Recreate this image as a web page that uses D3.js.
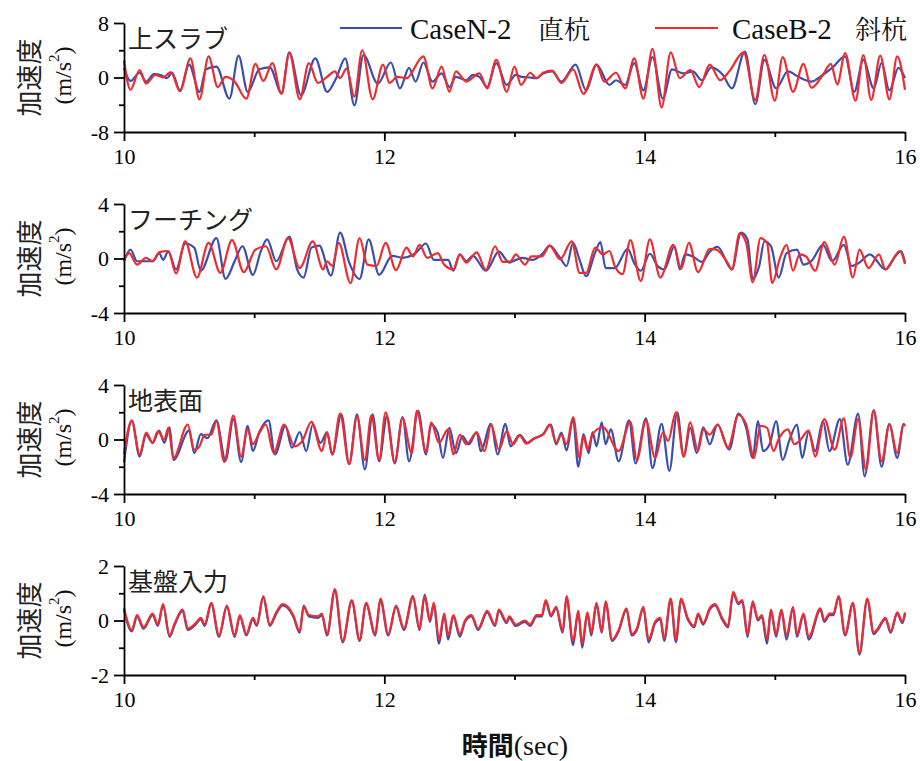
<!DOCTYPE html>
<html><head><meta charset="utf-8">
<script src="https://cdn.jsdelivr.net/npm/d3@7"></script>
<style>body{margin:0;background:#fff}svg{display:block}</style>
</head><body>
<script>
// ---------- data ----------
const timeDomain = [10, 16];
const xTicksMajor = [10, 12, 14, 16];
const xTicksMinor = [11, 13, 15];
const panelTitles = ["上スラブ", "フーチング", "地表面", "基盤入力"];
const panelLimits = [8, 4, 4, 2];
const legendCases = ["CaseN-2", "CaseB-2"];
const legendPiles = ["直杭", "斜杭"];
const yLabel = "加速度";
const xLabelMain = "時間";
const xLabelUnit = "(sec)";

// 上スラブ
const slabN = [[10.00,1.4],[10.05,-0.5],[10.12,0.7],[10.17,-0.6],[10.23,0.5],[10.29,0.3],[10.33,-0.1],[10.37,0.7],[10.43,-1.9],[10.50,1.9],[10.58,-2.1],[10.63,1.2],[10.71,1.6],[10.81,-3.1],[10.88,3.2],[10.95,-2.1],[11.04,1.2],[11.12,1.5],[11.21,-2.3],[11.27,3.7],[11.36,-2.6],[11.47,2.8],[11.56,-2.1],[11.63,-0.1],[11.70,2.8],[11.77,-4.1],[11.84,3.3],[11.95,-0.9],[12.05,2.2],[12.12,-1.6],[12.19,1.4],[12.24,-0.6],[12.30,2.2],[12.37,-0.6],[12.44,0.6],[12.50,-1.4],[12.55,0.1],[12.63,-0.4],[12.68,0.4],[12.73,0.1],[12.79,-1.4],[12.86,2.1],[12.94,-1.1],[13.01,0.4],[13.05,0.1],[13.12,0.0],[13.17,-0.1],[13.22,0.6],[13.29,0.9],[13.36,-0.6],[13.47,1.9],[13.55,-1.9],[13.63,1.9],[13.73,-1.1],[13.78,-0.4],[13.85,-1.1],[13.92,2.1],[13.99,-1.9],[14.06,3.0],[14.14,-3.1],[14.21,1.2],[14.30,0.6],[14.37,0.9],[14.44,-0.4],[14.51,1.5],[14.60,0.4],[14.67,-1.6],[14.77,3.8],[14.85,-3.9],[14.92,2.6],[15.01,-1.6],[15.10,0.9],[15.18,0.1],[15.28,-0.6],[15.37,0.4],[15.44,1.4],[15.54,3.1],[15.61,-2.1],[15.68,2.6],[15.76,-1.6],[15.82,2.1],[15.88,-1.9],[15.95,1.4],[16.00,-0.1]];
const slabB = [[10.00,2.5],[10.05,-1.8],[10.12,1.1],[10.17,-0.9],[10.24,0.4],[10.30,0.0],[10.36,0.8],[10.43,-2.0],[10.51,2.8],[10.58,-3.2],[10.65,3.1],[10.72,-1.4],[10.78,0.1],[10.85,-0.6],[10.94,-3.1],[11.01,2.0],[11.07,-0.5],[11.14,2.1],[11.21,-2.4],[11.27,3.6],[11.35,-3.2],[11.42,2.1],[11.49,-0.8],[11.56,0.1],[11.62,0.9],[11.66,-0.1],[11.71,1.3],[11.77,-2.8],[11.83,4.0],[11.91,-3.2],[11.99,1.9],[12.04,-0.8],[12.10,0.1],[12.17,-0.1],[12.30,3.1],[12.37,-1.6],[12.44,1.6],[12.50,-2.1],[12.55,0.9],[12.63,-0.6],[12.73,0.6],[12.79,-1.6],[12.86,2.6],[12.94,-2.1],[13.00,1.6],[13.05,-1.1],[13.12,0.7],[13.17,-0.1],[13.22,0.7],[13.29,1.0],[13.36,-0.8],[13.45,1.2],[13.53,-2.4],[13.63,1.9],[13.69,-0.6],[13.78,0.7],[13.85,-1.6],[13.92,2.8],[13.99,-3.1],[14.06,4.2],[14.13,-4.4],[14.20,3.7],[14.27,-0.1],[14.35,1.1],[14.42,-1.4],[14.50,1.9],[14.58,-0.4],[14.65,0.9],[14.76,3.7],[14.85,-3.3],[14.92,3.3],[15.00,-3.4],[15.06,3.0],[15.14,-2.1],[15.22,2.0],[15.28,-1.5],[15.37,0.4],[15.43,2.0],[15.48,-1.0],[15.54,3.6],[15.62,-3.4],[15.68,3.3],[15.74,-3.3],[15.81,3.2],[15.88,-3.2],[15.94,3.1],[16.00,-1.8]];

// フーチング
const footN = [[10.00,-0.2],[10.05,0.65],[10.10,-0.2],[10.17,-0.2],[10.22,-0.2],[10.27,0.4],[10.30,-0.1],[10.34,0.5],[10.40,-0.8],[10.47,1.1],[10.54,0.8],[10.59,-0.9],[10.71,1.5],[10.78,-1.5],[10.85,-0.2],[10.91,0.9],[10.99,-1.2],[11.05,0.5],[11.10,1.4],[11.17,-0.2],[11.27,1.6],[11.33,-0.8],[11.38,-1.4],[11.44,0.8],[11.50,0.95],[11.59,-1.25],[11.66,1.9],[11.73,-0.3],[11.81,-1.5],[11.88,1.4],[11.96,-1.2],[12.06,0.2],[12.14,0.05],[12.24,0.4],[12.32,1.1],[12.38,-0.1],[12.49,-0.1],[12.53,-0.9],[12.58,0.3],[12.63,-0.2],[12.68,0.2],[12.78,-0.9],[12.88,0.5],[12.96,-0.3],[13.01,-0.1],[13.06,0.05],[13.14,-0.1],[13.22,0.4],[13.27,0.95],[13.35,0.05],[13.40,-0.55],[13.45,1.15],[13.50,-0.1],[13.55,-1.3],[13.62,0.45],[13.66,1.2],[13.70,-0.7],[13.77,-0.7],[13.87,0.7],[13.92,-0.35],[13.97,-0.9],[14.04,0.35],[14.10,-0.55],[14.15,-0.8],[14.23,0.9],[14.27,-0.8],[14.31,0.3],[14.37,0.15],[14.44,-0.25],[14.50,0.5],[14.56,0.85],[14.67,-0.8],[14.74,1.9],[14.79,1.4],[14.83,-1.5],[14.88,-0.55],[14.92,1.25],[14.97,0.9],[15.03,-1.4],[15.09,0.4],[15.17,0.65],[15.22,-0.45],[15.28,-0.2],[15.37,1.0],[15.44,-0.2],[15.53,1.0],[15.59,-0.55],[15.65,-0.3],[15.73,0.3],[15.85,-0.8],[15.91,-0.05],[15.97,0.55],[16.00,-0.3]];
const footB = [[10.00,-0.1],[10.04,0.4],[10.10,-0.45],[10.17,0.05],[10.22,-0.2],[10.27,0.45],[10.34,0.55],[10.40,-1.1],[10.47,1.25],[10.56,-1.4],[10.65,1.15],[10.74,-1.05],[10.83,1.35],[10.92,-1.0],[11.01,0.65],[11.09,0.9],[11.17,-0.8],[11.26,1.5],[11.35,-0.7],[11.45,1.25],[11.53,-0.8],[11.56,-0.2],[11.60,-0.55],[11.65,1.15],[11.74,-1.8],[11.81,1.5],[11.87,-0.45],[11.94,-0.55],[12.01,1.15],[12.09,-0.85],[12.17,0.8],[12.22,0.15],[12.27,1.0],[12.33,0.05],[12.41,0.4],[12.46,-0.45],[12.53,-0.8],[12.58,0.3],[12.63,-0.3],[12.71,0.45],[12.78,-0.85],[12.85,0.9],[12.91,-0.25],[12.97,-0.2],[13.01,0.3],[13.08,-0.45],[13.13,0.15],[13.21,0.15],[13.27,0.95],[13.35,-0.05],[13.44,1.25],[13.50,-1.05],[13.55,-1.05],[13.62,0.8],[13.68,0.3],[13.73,0.55],[13.77,-0.55],[13.83,-1.15],[13.89,1.35],[13.97,-1.65],[14.04,1.4],[14.12,-1.4],[14.22,1.0],[14.28,-0.75],[14.34,1.15],[14.41,-1.0],[14.50,0.7],[14.55,0.65],[14.63,-0.2],[14.67,-0.8],[14.73,1.85],[14.78,1.15],[14.83,-1.75],[14.89,1.5],[14.94,1.15],[14.98,-1.8],[15.04,0.05],[15.09,1.0],[15.14,-0.9],[15.19,0.3],[15.24,0.15],[15.31,-0.9],[15.38,1.2],[15.46,-0.45],[15.53,1.6],[15.60,-1.4],[15.65,0.65],[15.72,-0.7],[15.80,0.3],[15.85,-0.8],[15.96,0.55],[16.00,-0.4]];

// 地表面
const groundN = [[10.00,-1.7],[10.06,1.35],[10.12,-1.25],[10.17,0.35],[10.22,-0.25],[10.27,0.65],[10.31,-0.25],[10.35,0.9],[10.38,-1.5],[10.50,0.65],[10.54,-1.0],[10.59,0.4],[10.64,0.1],[10.71,1.4],[10.78,-1.55],[10.84,1.5],[10.90,-1.65],[10.95,1.0],[10.99,-0.85],[11.04,0.55],[11.11,1.4],[11.16,-1.1],[11.24,1.0],[11.29,-0.6],[11.35,0.55],[11.40,-0.85],[11.45,1.1],[11.51,-0.25],[11.56,0.55],[11.60,-1.1],[11.67,1.85],[11.73,-1.8],[11.79,1.85],[11.85,-2.2],[11.91,1.85],[11.96,-1.6],[12.02,1.7],[12.08,-1.75],[12.14,1.65],[12.19,-1.6],[12.26,2.1],[12.32,-1.1],[12.36,1.1],[12.41,0.5],[12.45,-1.35],[12.50,0.85],[12.55,-1.0],[12.60,0.25],[12.65,-0.35],[12.71,0.55],[12.74,-0.85],[12.82,1.15],[12.87,-1.1],[12.93,1.15],[12.97,-0.5],[13.04,0.35],[13.10,-0.25],[13.15,0.05],[13.22,0.4],[13.28,1.1],[13.32,-0.35],[13.36,0.5],[13.40,-0.8],[13.45,1.5],[13.49,-2.0],[13.53,0.4],[13.57,-1.0],[13.60,0.55],[13.63,-0.5],[13.67,1.25],[13.70,-0.35],[13.74,0.75],[13.80,-1.6],[13.88,1.4],[13.93,-1.75],[14.01,1.55],[14.06,-2.1],[14.13,1.15],[14.19,-2.3],[14.25,2.0],[14.30,-1.25],[14.35,0.85],[14.40,-1.0],[14.45,0.9],[14.50,-0.35],[14.56,1.1],[14.65,-0.75],[14.72,1.9],[14.78,0.85],[14.83,-1.35],[14.87,1.35],[14.91,-0.85],[14.96,-0.35],[15.01,1.35],[15.06,-1.5],[15.11,-0.1],[15.17,1.1],[15.21,-1.35],[15.26,0.55],[15.31,-0.85],[15.37,1.35],[15.42,-0.85],[15.50,1.5],[15.56,-1.85],[15.64,1.9],[15.69,-2.7],[15.76,2.15],[15.82,-2.0],[15.88,1.15],[15.94,-1.35],[15.99,1.15],[16.00,1.0]];
const groundB = [[10.00,-1.1],[10.06,1.4],[10.12,-1.1],[10.17,0.5],[10.22,-0.25],[10.26,0.6],[10.31,0.0],[10.34,0.85],[10.38,-1.35],[10.49,1.1],[10.54,-0.75],[10.58,-0.5],[10.62,0.35],[10.67,0.35],[10.71,1.35],[10.77,-1.65],[10.84,1.75],[10.90,-1.25],[10.95,0.75],[10.99,-0.35],[11.04,0.5],[11.09,1.1],[11.15,-1.0],[11.23,1.1],[11.31,-0.5],[11.37,-0.1],[11.44,1.3],[11.52,-0.85],[11.56,0.5],[11.60,-1.1],[11.66,1.9],[11.73,-1.8],[11.79,1.65],[11.85,-1.5],[11.90,1.75],[11.96,-1.5],[12.01,2.0],[12.08,-1.65],[12.14,1.55],[12.21,-1.0],[12.25,2.1],[12.32,-0.9],[12.36,1.25],[12.42,-0.25],[12.49,0.75],[12.53,-1.1],[12.58,0.35],[12.63,-0.35],[12.71,0.5],[12.77,-0.85],[12.82,1.1],[12.88,-0.75],[12.94,0.6],[12.99,-0.35],[13.04,0.3],[13.09,-0.3],[13.15,0.1],[13.22,0.35],[13.27,1.1],[13.32,-0.25],[13.36,0.35],[13.40,-0.35],[13.45,1.65],[13.50,-1.35],[13.53,0.25],[13.56,-0.75],[13.60,0.4],[13.68,0.9],[13.80,-0.85],[13.89,1.3],[13.94,-1.5],[14.01,1.4],[14.08,-1.35],[14.14,0.5],[14.18,-0.1],[14.24,2.0],[14.30,-1.25],[14.35,1.25],[14.41,-0.85],[14.45,0.75],[14.50,0.35],[14.56,1.1],[14.64,-0.6],[14.72,1.8],[14.78,1.1],[14.84,-1.35],[14.89,1.0],[14.94,0.85],[14.99,-0.85],[15.03,0.05],[15.10,0.75],[15.15,-0.35],[15.19,-0.1],[15.26,0.65],[15.31,-1.25],[15.38,1.5],[15.46,-0.75],[15.53,1.55],[15.58,-1.35],[15.64,1.5],[15.70,-2.2],[15.76,2.1],[15.82,-1.6],[15.88,1.1],[15.94,-1.0],[15.99,1.1],[16.00,1.0]];

// 基盤入力
const baseN = [[10.00,0.4],[10.06,-0.4],[10.10,0.15],[10.15,-0.3],[10.22,0.2],[10.26,-0.2],[10.30,0.55],[10.35,-0.6],[10.39,-0.15],[10.45,0.35],[10.49,-0.35],[10.55,-0.15],[10.59,0.05],[10.62,-0.2],[10.67,0.6],[10.73,-0.6],[10.79,0.5],[10.85,-0.6],[10.89,0.15],[10.94,-0.55],[10.99,0.05],[11.02,-0.2],[11.07,0.85],[11.12,-0.2],[11.17,0.25],[11.22,0.55],[11.30,0.15],[11.35,-0.45],[11.38,0.55],[11.42,0.15],[11.49,0.1],[11.52,0.2],[11.56,-0.55],[11.62,1.1],[11.68,-0.8],[11.75,0.7],[11.81,-0.75],[11.86,0.6],[11.93,-0.55],[11.97,0.75],[12.03,-0.55],[12.09,0.5],[12.15,-0.35],[12.22,0.85],[12.27,-0.35],[12.31,0.95],[12.35,-0.05],[12.38,0.6],[12.42,-0.85],[12.46,0.2],[12.49,-0.7],[12.53,0.15],[12.58,-0.6],[12.62,-0.05],[12.67,0.15],[12.72,-0.35],[12.79,0.3],[12.85,-0.2],[12.88,0.35],[12.94,-0.1],[12.96,0.1],[13.01,-0.2],[13.08,-0.05],[13.12,-0.2],[13.17,0.15],[13.21,0.15],[13.24,0.7],[13.28,0.15],[13.32,0.45],[13.37,-0.45],[13.40,0.85],[13.45,-0.9],[13.49,0.3],[13.52,-1.0],[13.56,0.25],[13.59,-0.55],[13.63,0.6],[13.67,-0.45],[13.70,0.65],[13.75,-0.75],[13.80,-0.4],[13.86,0.4],[13.90,-0.55],[13.94,-0.35],[13.99,0.45],[14.03,-0.8],[14.08,-0.1],[14.12,0.05],[14.15,-0.75],[14.20,0.75],[14.24,-0.8],[14.28,0.75],[14.33,0.05],[14.38,-0.25],[14.41,0.2],[14.45,-0.15],[14.50,0.4],[14.54,0.55],[14.60,0.0],[14.64,-0.25],[14.68,1.0],[14.72,0.6],[14.75,0.7],[14.79,-0.6],[14.83,0.65],[14.87,0.0],[14.90,0.15],[14.94,-0.85],[14.97,0.35],[15.01,-0.6],[15.05,0.35],[15.09,-0.7],[15.14,0.45],[15.17,-0.6],[15.22,0.2],[15.26,-0.7],[15.35,0.4],[15.38,-0.05],[15.42,0.2],[15.45,0.2],[15.49,0.85],[15.54,-0.55],[15.60,0.6],[15.65,-1.25],[15.71,0.75],[15.76,-0.5],[15.79,-0.35],[15.85,0.05],[15.89,-0.45],[15.94,0.25],[15.98,-0.1],[16.00,0.25]];
const baseB = [[10.00,0.45],[10.06,-0.35],[10.10,0.2],[10.15,-0.25],[10.22,0.25],[10.26,-0.15],[10.30,0.6],[10.35,-0.55],[10.39,-0.1],[10.45,0.4],[10.49,-0.3],[10.55,-0.1],[10.59,0.1],[10.62,-0.15],[10.67,0.65],[10.73,-0.55],[10.79,0.55],[10.85,-0.55],[10.89,0.2],[10.94,-0.5],[10.99,0.1],[11.02,-0.15],[11.07,0.9],[11.12,-0.15],[11.17,0.3],[11.22,0.6],[11.30,0.2],[11.35,-0.4],[11.38,0.5],[11.42,0.2],[11.49,0.15],[11.52,0.25],[11.56,-0.5],[11.62,1.15],[11.68,-0.75],[11.75,0.75],[11.81,-0.7],[11.86,0.65],[11.93,-0.5],[11.97,0.8],[12.03,-0.5],[12.09,0.55],[12.15,-0.3],[12.22,0.9],[12.27,-0.3],[12.31,0.9],[12.35,0.0],[12.38,0.65],[12.42,-0.7],[12.46,0.25],[12.49,-0.55],[12.53,0.2],[12.58,-0.5],[12.62,0.0],[12.67,0.2],[12.72,-0.3],[12.79,0.35],[12.85,-0.15],[12.88,0.4],[12.94,-0.05],[12.96,0.15],[13.01,-0.15],[13.08,0.0],[13.12,-0.15],[13.17,0.2],[13.21,0.2],[13.24,0.75],[13.28,0.2],[13.32,0.5],[13.37,-0.4],[13.40,0.9],[13.45,-0.75],[13.49,0.35],[13.52,-0.85],[13.56,0.3],[13.59,-0.45],[13.63,0.65],[13.67,-0.4],[13.70,0.7],[13.75,-0.7],[13.80,-0.35],[13.86,0.45],[13.90,-0.5],[13.94,-0.3],[13.99,0.5],[14.03,-0.7],[14.08,-0.05],[14.12,0.1],[14.15,-0.65],[14.20,0.8],[14.24,-0.7],[14.28,0.8],[14.33,0.1],[14.38,-0.2],[14.41,0.25],[14.45,-0.1],[14.50,0.45],[14.54,0.6],[14.60,0.05],[14.64,-0.2],[14.68,1.05],[14.72,0.65],[14.75,0.75],[14.79,-0.5],[14.83,0.7],[14.87,0.05],[14.90,0.2],[14.94,-0.7],[14.97,0.4],[15.01,-0.5],[15.05,0.4],[15.09,-0.55],[15.14,0.5],[15.17,-0.5],[15.22,0.25],[15.26,-0.6],[15.35,0.45],[15.38,0.0],[15.42,0.25],[15.45,0.25],[15.49,0.9],[15.54,-0.5],[15.60,0.65],[15.65,-1.2],[15.71,0.8],[15.76,-0.45],[15.79,-0.3],[15.85,0.1],[15.89,-0.4],[15.94,0.3],[15.98,-0.05],[16.00,0.3]];

const panelSeriesN = [slabN, footN, groundN, baseN];
const panelSeriesB = [slabB, footB, groundB, baseB];

// ---------- layout ----------
const W = 920, H = 761;
const xL = 124, xR = 905;
const panelTops = [23, 204, 385, 566];
const panelH = 109;
const colN = "#3a4fae", colB = "#ef2b2f";
const serif = "'Liberation Serif'";
const cjk = "'Noto Sans CJK JP'";
const cjkSerif = "'Noto Serif CJK JP'";

const svg = d3.select("body").append("svg").attr("width", W).attr("height", H);
const x = d3.scaleLinear().domain(timeDomain).range([xL, xR]);

function clean(arr){
  const out=[]; let last=-Infinity;
  for(const p of arr){ if(p[0]>last){out.push(p); last=p[0];} }
  return out;
}

panelLimits.forEach((lim, i) => {
  const top = panelTops[i];
  const y = d3.scaleLinear().domain([-lim, lim]).range([top + panelH, top]);
  const g = svg.append("g");
  const line = d3.line().x(d => x(d[0])).y(d => y(d[1])).curve(d3.curveMonotoneX);

  g.append("path").datum(clean(panelSeriesN[i])).attr("d", line)
    .attr("fill","none").attr("stroke",colN).attr("stroke-width",2.2).attr("stroke-linejoin","round");
  g.append("path").datum(clean(panelSeriesB[i])).attr("d", line)
    .attr("fill","none").attr("stroke",colB).attr("stroke-width",2.2).attr("stroke-linejoin","round");

  const ya = g.append("g").attr("transform",`translate(${xL},0)`)
    .call(d3.axisLeft(y).tickValues([-lim,0,lim]).tickSize(10).tickSizeOuter(0).tickPadding(5).tickFormat(d=>String(d)));
  const ym = g.append("g").attr("transform",`translate(${xL},0)`)
    .call(d3.axisLeft(y).tickValues([-lim/2,lim/2]).tickSize(5).tickSizeOuter(0).tickFormat(""));
  ym.select(".domain").remove();
  const xa = g.append("g").attr("transform",`translate(0,${top+panelH})`)
    .call(d3.axisBottom(x).tickValues(xTicksMajor).tickSize(9).tickSizeOuter(0).tickPadding(7).tickFormat(d=>String(d)));
  const xm = g.append("g").attr("transform",`translate(0,${top+panelH})`)
    .call(d3.axisBottom(x).tickValues(xTicksMinor).tickSize(5).tickSizeOuter(0).tickFormat(""));
  xm.select(".domain").remove();
  [ya,ym,xa,xm].forEach(a=>{
    a.attr("font-family", null).attr("font-size", null);
    a.selectAll("path,line").attr("stroke","#000").attr("stroke-width",1.8);
    a.selectAll("text").style("font-family",serif).style("font-size","22px").attr("fill","#000");
  });

  g.append("text").attr("x", xL+4).attr("y", top+25).text(panelTitles[i])
    .style("font-family", cjk).style("font-size","25px").attr("fill","#222");

  const cy = top + panelH/2;
  g.append("text").attr("transform",`translate(27,${cy}) rotate(-90)`)
    .attr("text-anchor","middle").attr("dominant-baseline","central")
    .style("font-family",cjk).style("font-size","26px").attr("fill","#222").text(yLabel);
  const u = g.append("text").attr("transform",`translate(63,${cy-2}) rotate(-90)`)
    .attr("text-anchor","middle").attr("dominant-baseline","central")
    .style("font-family",serif).style("font-size","24px").attr("fill","#111");
  u.append("tspan").text("(m/s");
  u.append("tspan").attr("dy",-9).style("font-size","15px").text("2");
  u.append("tspan").attr("dy",9).text(")");
});

// legend
const legend = svg.append("g");
[[colN, 340, 402, 410, 538, 0],[colB, 655, 718, 732, 855, 1]].forEach(([c,x1,x2,tx,tx2,k])=>{
  legend.append("line").attr("x1",x1).attr("x2",x2).attr("y1",28).attr("y2",28).attr("stroke",c).attr("stroke-width",2);
  legend.append("text").attr("x",tx).attr("y",39).style("font-family",serif).style("font-size","29px")
    .attr("fill","#111").text(legendCases[k]);
  legend.append("text").attr("x",tx2).attr("y",39).style("font-family",cjkSerif).style("font-size","26px")
    .attr("fill","#111").text(legendPiles[k]);
});

// x title
const xt = svg.append("text").attr("x",515).attr("y",755).attr("text-anchor","middle").attr("fill","#111");
xt.append("tspan").style("font-family",cjk).style("font-weight","bold").style("font-size","26px").text(xLabelMain);
xt.append("tspan").style("font-family",serif).style("font-size","28px").text(xLabelUnit);
</script>
</body></html>
